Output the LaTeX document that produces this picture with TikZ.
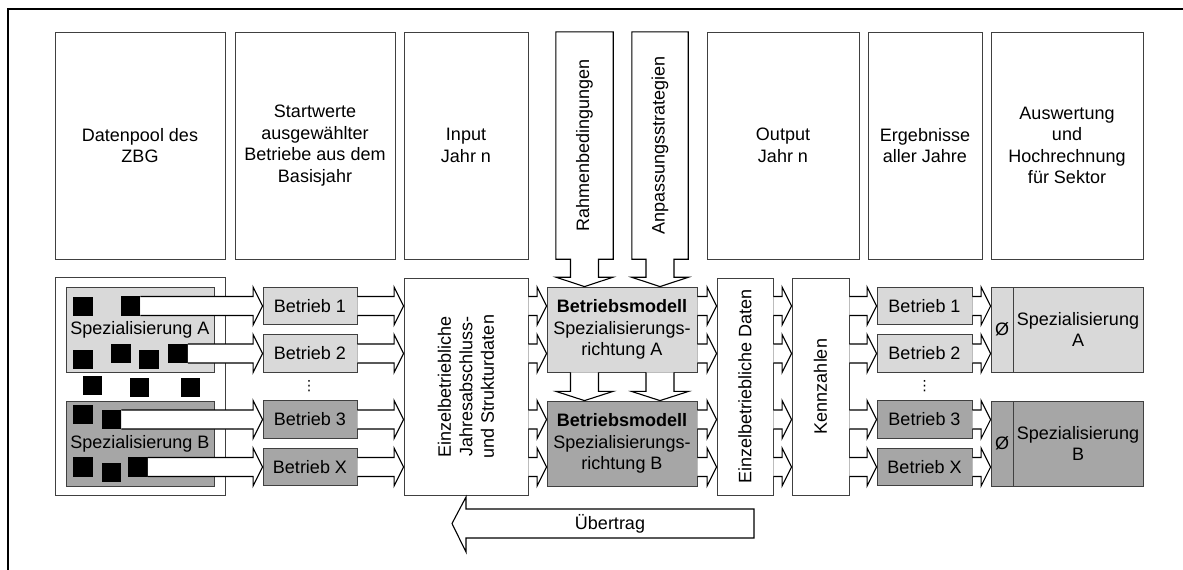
\documentclass[tikz,border=0pt]{standalone}
\usepackage{fontspec}
\setmainfont{Liberation Sans}
\newfontfamily\djv{DejaVu Sans}
\usetikzlibrary{calc}
\definecolor{lg}{HTML}{D9D9D9}
\definecolor{dg}{HTML}{A6A6A6}
\definecolor{bc}{HTML}{404040}
\newcommand\fs{\fontsize{18}{21.5}\selectfont}
% horizontal block arrow from node #1 to node #2 at height #3
\newcommand\harr[3]{\draw[blk] let \p1=(#1.east), \p2=(#2.west) in
  (\x1,#3+9.5) -- (\x2-9.5,#3+9.5) -- (\x2-9.5,#3+19) -- (\x2,#3) --
  (\x2-9.5,#3-19) -- (\x2-9.5,#3-9.5) -- (\x1,#3-9.5);}
% down arrow callout from node #1 onto node #2, then arrow from #2 to #3
\newcommand\varr[3]{%
  \draw[blk] let \p1=(#1.south), \p2=(#2.north) in
    (#1.south west) -- (#1.north west) -- (#1.north east) -- (#1.south east)
    -- (\x1+14,\y1) -- (\x1+14,\y1-18) -- (\x1+28.5,\y1-18) -- (\x1,\y2)
    -- (\x1-28.5,\y1-18) -- (\x1-14,\y1-18) -- (\x1-14,\y1) -- cycle;
  \draw[blk] let \p1=(#1.south), \p2=(#2.south), \p3=(#3.north) in
    (\x1-14,\y2) -- (\x1-14,\y2-19) -- (\x1-28.5,\y2-19) -- (\x1,\y3)
    -- (\x1+28.5,\y2-19) -- (\x1+14,\y2-19) -- (\x1+14,\y2);}
\begin{document}
\begin{tikzpicture}[x=1pt,y=1pt,
  box/.style={draw=bc, line width=0.8pt, fill=white, inner sep=0pt, align=center, font=\fs},
  tall/.style={minimum height=227},
  lo/.style={minimum height=217},
  bet/.style={minimum width=94, minimum height=37.5},
  sq/.style={fill=black, minimum size=19.5, inner sep=0pt},
  blk/.style={draw=black, line width=1.1pt, fill=white, line join=miter},
  txt/.style={font=\fs, align=center, inner sep=0pt},
  rot/.style={font=\fs, align=center, inner sep=0pt, rotate=90},
  vd/.style={inner sep=0pt, font=\djv\fontsize{14}{14}\selectfont}]
\useasboundingbox (0,0) rectangle (1183,-570);
\draw[line width=2pt] (8,-570) -- (8,-9) -- (1183,-9);

% top row
\node[box, tall, minimum width=170] (t1) at (140,-145.5) {Datenpool des\\ZBG};
\node[box, tall, minimum width=160] (t2) at (315,-145.5) {Startwerte\\ausgewählter\\Betriebe aus dem\\Basisjahr};
\node[box, tall, minimum width=124] (t3) at (466,-145.5) {Input\\Jahr n};
\node[box, tall, minimum width=152] (t4) at (783,-145.5) {Output\\Jahr n};
\node[box, tall, minimum width=114] (t5) at (925,-145.5) {Ergebnisse\\aller Jahre};
\node[box, tall, minimum width=152] (t6) at (1067,-145.5) {Auswertung\\und\\Hochrechnung\\für Sektor};

% bottom row boxes
\node[box, minimum width=170, minimum height=218] (pool) at (140,-386) {};
\node[box, fill=lg, minimum width=148, minimum height=85] (spA) at (140,-329.5) {Spezialisierung A};
\node[box, fill=dg, minimum width=148, minimum height=85] (spB) at (140,-443.5) {Spezialisierung B};

\node[box, bet, fill=lg] (b1) at (310,-305.75) {Betrieb 1};
\node[box, bet, fill=lg] (b2) at (310,-353.5) {Betrieb 2};
\node[box, bet, fill=dg] (b3) at (310,-419.5) {Betrieb 3};
\node[box, bet, fill=dg] (b4) at (310,-467) {Betrieb X};
\node[vd] (dl) at (309,-386) {⋮};

\node[box, lo, minimum width=124] (ez) at (466,-386.5) {};
\node[rot] (ezT) at (ez) {Einzelbetriebliche\\Jahresabschluss-\\und Strukturdaten};

\node[box, fill=lg, minimum width=150, minimum height=85] (bmA) at (622,-329.5) {\textbf{Betriebsmodell}\\Spezialisierungs-\\richtung A};
\node[box, fill=dg, minimum width=150, minimum height=85] (bmB) at (622,-443.5) {\textbf{Betriebsmodell}\\Spezialisierungs-\\richtung B};

\node[box, lo, minimum width=56] (ed) at (745,-386.5) {};
\node[rot] (edT) at (ed) {Einzelbetriebliche Daten};
\node[box, lo, minimum width=57] (kz) at (820.5,-386.5) {};
\node[rot] (kzT) at (kz) {Kennzahlen};

\node[box, bet, minimum width=95, fill=lg] (rb1) at (924.5,-305.75) {Betrieb 1};
\node[box, bet, minimum width=95, fill=lg] (rb2) at (924.5,-353.5) {Betrieb 2};
\node[box, bet, minimum width=95, fill=dg] (rb3) at (924.5,-419.5) {Betrieb 3};
\node[box, bet, minimum width=95, fill=dg] (rb4) at (924.5,-467) {Betrieb X};
\node[vd] (dr) at (924.5,-386) {⋮};

\node[box, fill=lg, minimum width=22, minimum height=85] (oA) at (1002,-329.5) {Ø};
\node[box, fill=lg, minimum width=130, minimum height=85] (sA) at (1078,-329.5) {Spezialisierung\\A};
\node[box, fill=dg, minimum width=22, minimum height=85] (oB) at (1002,-443.5) {Ø};
\node[box, fill=dg, minimum width=130, minimum height=85] (sB) at (1078,-443.5) {Spezialisierung\\B};

% black squares
\node[sq] (q1) at (83,-306.5) {};
\node[sq] (sqa) at (130.5,-306) {};
\node[sq] (q2) at (83,-359.5) {};
\node[sq] (q3) at (121,-353.5) {};
\node[sq] (q4) at (149,-359.5) {};
\node[sq] (sqb) at (178,-353.5) {};
\node[sq] (q5) at (92.5,-385.5) {};
\node[sq] (q6) at (139.5,-387.5) {};
\node[sq] (q7) at (190.5,-387.5) {};
\node[sq] (q8) at (83,-414.5) {};
\node[sq] (sqc) at (111.5,-419.5) {};
\node[sq] (q9) at (83,-467) {};
\node[sq] (q10) at (111.5,-472.5) {};
\node[sq] (sqd) at (138,-467) {};

% horizontal block arrows
\harr{sqa}{b1}{-306}
\harr{sqb}{b2}{-353.5}
\harr{sqc}{b3}{-419.5}
\harr{sqd}{b4}{-467}
\harr{b1}{ez}{-306}
\harr{b2}{ez}{-353.5}
\harr{b3}{ez}{-419.5}
\harr{b4}{ez}{-467}
\harr{ez}{bmA}{-306}
\harr{ez}{bmA}{-353.5}
\harr{ez}{bmB}{-419.5}
\harr{ez}{bmB}{-467}
\harr{bmA}{ed}{-306}
\harr{bmA}{ed}{-353.5}
\harr{bmB}{ed}{-419.5}
\harr{bmB}{ed}{-467}
\harr{ed}{kz}{-306}
\harr{ed}{kz}{-353.5}
\harr{ed}{kz}{-419.5}
\harr{ed}{kz}{-467}
\harr{kz}{rb1}{-306}
\harr{kz}{rb2}{-353.5}
\harr{kz}{rb3}{-419.5}
\harr{kz}{rb4}{-467}
\harr{rb1}{oA}{-306}
\harr{rb2}{oA}{-353.5}
\harr{rb3}{oB}{-419.5}
\harr{rb4}{oB}{-467}

% down arrow callouts
\node[inner sep=0pt, minimum width=57, minimum height=227] (ra) at (584.5,-145.5) {};
\node[inner sep=0pt, minimum width=56, minimum height=227] (an) at (660,-145.5) {};
\varr{ra}{bmA}{bmB}
\varr{an}{bmA}{bmB}
\node[rot] (raT) at (ra) {Rahmenbedingungen};
\node[rot] (anT) at (an) {Anpassungsstrategien};

% Uebertrag
\coordinate (ueR) at (754,-523.5);
\draw[blk] let \p1=(ez.south), \p2=(ueR) in
  (\x2,\y2+14.5) -- (\x1,\y2+14.5) -- (\x1,\y2+26.5) -- (\x1-14,\y2)
  -- (\x1,\y2-28.5) -- (\x1,\y2-14.5) -- (\x2,\y2-14.5) -- cycle;
\node[txt] (ue) at (610,-523.5) {Übertrag};
\end{tikzpicture}
\end{document}
